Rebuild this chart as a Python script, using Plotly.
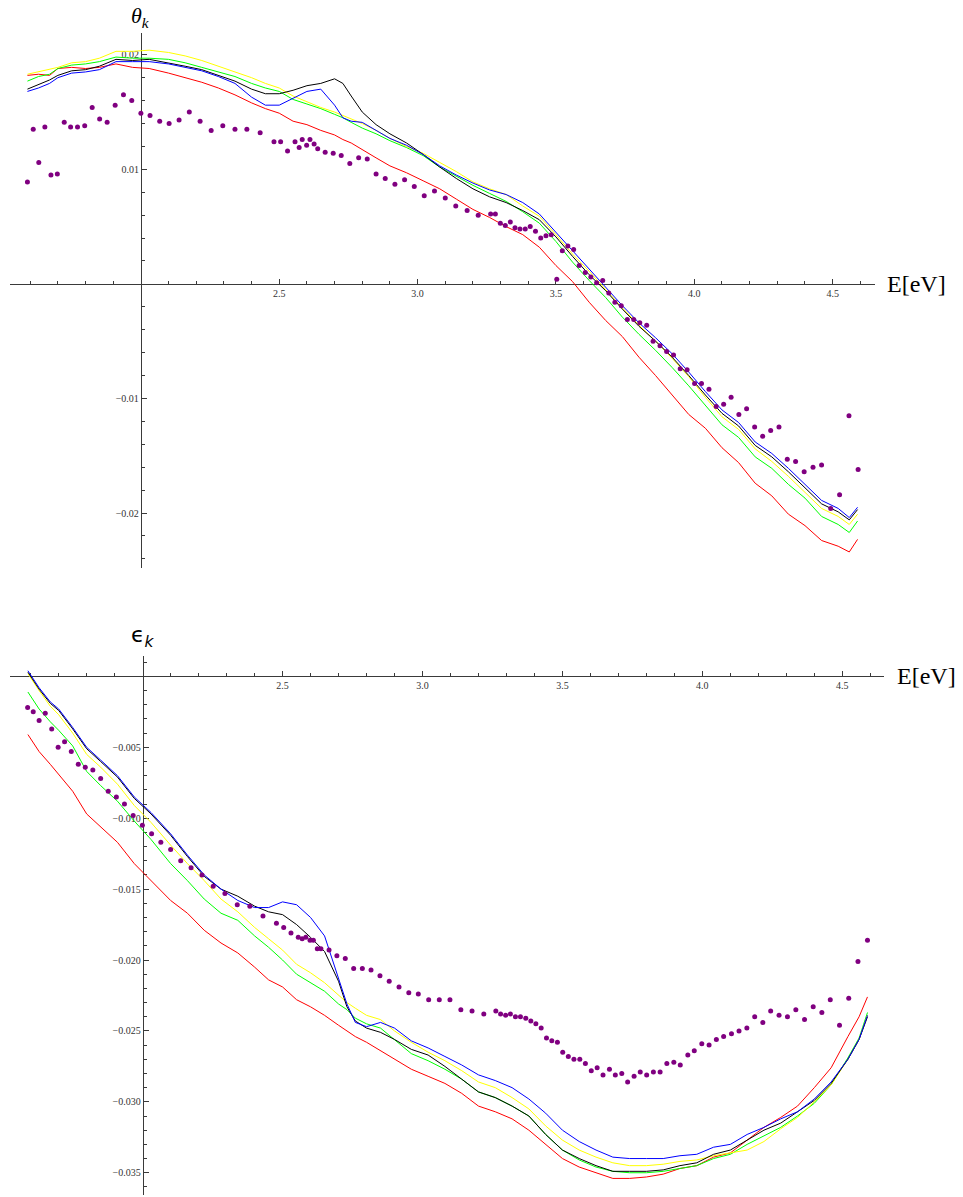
import plotly.graph_objects as go

# ---------------- data ----------------
E = [1.59, 1.63, 1.67, 1.70, 1.75, 1.80, 1.85, 1.91, 1.97, 2.03,
     2.10, 2.16, 2.22, 2.28, 2.34, 2.40, 2.45, 2.50, 2.55, 2.60,
     2.65, 2.70, 2.73, 2.76, 2.80, 2.85, 2.90, 2.96, 3.02, 3.08,
     3.14, 3.20, 3.26, 3.32, 3.38, 3.44, 3.50, 3.56, 3.62, 3.68,
     3.74, 3.80, 3.86, 3.92, 3.98, 4.04, 4.10, 4.16, 4.22, 4.28,
     4.34, 4.40, 4.46, 4.52, 4.56, 4.59]

theta_red = [0.0182, 0.0183, 0.0182, 0.0188, 0.0189, 0.0188, 0.0189, 0.0192, 0.0189, 0.0188,
             0.0184, 0.0180, 0.0176, 0.0171, 0.0165, 0.0158, 0.0153, 0.0149, 0.0142, 0.0139,
             0.0134, 0.0130, 0.0126, 0.0123, 0.0117, 0.0110, 0.0103, 0.0097, 0.0090, 0.0083,
             0.0074, 0.0065, 0.0058, 0.0050, 0.0043, 0.0032, 0.0016, 0.0002, -0.0016, -0.0032,
             -0.0046, -0.0064, -0.0080, -0.0097, -0.0114, -0.0126, -0.0143, -0.0156, -0.0174, -0.0185,
             -0.0201, -0.0211, -0.0224, -0.0229, -0.0234, -0.0223]
theta_green = [0.0177, 0.0181, 0.0183, 0.0188, 0.0191, 0.0192, 0.0194, 0.0198, 0.0197, 0.0197,
               0.0196, 0.0193, 0.0189, 0.0185, 0.0181, 0.0175, 0.0171, 0.0168, 0.0161, 0.0157,
               0.0153, 0.0148, 0.0145, 0.0141, 0.0136, 0.0131, 0.0125, 0.0119, 0.0112, 0.0102,
               0.0094, 0.0086, 0.0079, 0.0072, 0.0063, 0.0053, 0.0037, 0.0019, 0.0003, -0.0012,
               -0.0029, -0.0044, -0.0058, -0.0073, -0.0089, -0.0106, -0.0123, -0.0134, -0.0151, -0.0161,
               -0.0175, -0.0187, -0.0203, -0.0210, -0.0217, -0.0207]
theta_yellow = [0.0183, 0.0185, 0.0187, 0.0189, 0.0193, 0.0194, 0.0197, 0.0203, 0.0203, 0.0204,
                0.0202, 0.0199, 0.0195, 0.0190, 0.0185, 0.0180, 0.0175, 0.0171, 0.0164, 0.0159,
                0.0154, 0.0150, 0.0147, 0.0144, 0.0140, 0.0134, 0.0127, 0.0120, 0.0114, 0.0106,
                0.0098, 0.0089, 0.0083, 0.0078, 0.0068, 0.0059, 0.0043, 0.0026, 0.0011, -0.0005,
                -0.0021, -0.0036, -0.0050, -0.0065, -0.0081, -0.0099, -0.0116, -0.0127, -0.0144, -0.0155,
                -0.0168, -0.0182, -0.0196, -0.0203, -0.0210, -0.0201]
theta_black = [0.0170, 0.0174, 0.0178, 0.0182, 0.0186, 0.0187, 0.0190, 0.0196, 0.0195, 0.0196,
               0.0193, 0.0190, 0.0187, 0.0182, 0.0177, 0.0170, 0.0166, 0.0166, 0.0169, 0.0173,
               0.0175, 0.0179, 0.0175, 0.0164, 0.0150, 0.0139, 0.0131, 0.0123, 0.0113, 0.0102,
               0.0092, 0.0083, 0.0076, 0.0071, 0.0064, 0.0056, 0.0041, 0.0024, 0.0008, -0.0006,
               -0.0022, -0.0037, -0.0050, -0.0064, -0.0080, -0.0097, -0.0113, -0.0124, -0.0141, -0.0151,
               -0.0164, -0.0178, -0.0192, -0.0199, -0.0206, -0.0197]
theta_blue = [0.0168, 0.0171, 0.0175, 0.0180, 0.0184, 0.0185, 0.0187, 0.0194, 0.0194, 0.0194,
              0.0192, 0.0189, 0.0186, 0.0181, 0.0175, 0.0163, 0.0156, 0.0156, 0.0162, 0.0168,
              0.0170, 0.0156, 0.0145, 0.0142, 0.0141, 0.0134, 0.0127, 0.0121, 0.0113, 0.0103,
              0.0095, 0.0088, 0.0082, 0.0078, 0.0071, 0.0061, 0.0045, 0.0029, 0.0013, -0.0003,
              -0.0019, -0.0034, -0.0047, -0.0061, -0.0077, -0.0094, -0.0110, -0.0121, -0.0138, -0.0148,
              -0.0161, -0.0175, -0.0189, -0.0196, -0.0204, -0.0195]

eps_red = [-0.0041, -0.0053, -0.0062, -0.0069, -0.0081, -0.0097, -0.0106, -0.0117, -0.0132, -0.0144,
           -0.0158, -0.0167, -0.0179, -0.0188, -0.0195, -0.0205, -0.0214, -0.0219, -0.0228, -0.0233,
           -0.0239, -0.0246, -0.0250, -0.0254, -0.0258, -0.0264, -0.0270, -0.0277, -0.0282, -0.0287,
           -0.0294, -0.0303, -0.0307, -0.0312, -0.0320, -0.0330, -0.0340, -0.0346, -0.0350, -0.0354,
           -0.0354, -0.0353, -0.0351, -0.0347, -0.0345, -0.0339, -0.0336, -0.0327, -0.0318, -0.0311,
           -0.0303, -0.0290, -0.0276, -0.0254, -0.0240, -0.0226]
eps_green = [-0.0011, -0.0023, -0.0032, -0.0038, -0.0049, -0.0067, -0.0077, -0.0088, -0.0102, -0.0115,
             -0.0132, -0.0144, -0.0157, -0.0167, -0.0172, -0.0183, -0.0191, -0.0200, -0.0210, -0.0216,
             -0.0222, -0.0231, -0.0235, -0.0241, -0.0245, -0.0248, -0.0256, -0.0266, -0.0271, -0.0277,
             -0.0284, -0.0293, -0.0297, -0.0303, -0.0310, -0.0323, -0.0334, -0.0341, -0.0346, -0.0349,
             -0.0350, -0.0350, -0.0349, -0.0347, -0.0345, -0.0340, -0.0337, -0.0330, -0.0324, -0.0318,
             -0.0310, -0.0301, -0.0288, -0.0269, -0.0255, -0.0237]
eps_yellow = [0.0002, -0.0010, -0.0021, -0.0027, -0.0040, -0.0055, -0.0064, -0.0076, -0.0091, -0.0103,
              -0.0119, -0.0132, -0.0144, -0.0157, -0.0166, -0.0177, -0.0185, -0.0193, -0.0203, -0.0209,
              -0.0216, -0.0225, -0.0230, -0.0234, -0.0239, -0.0242, -0.0250, -0.0258, -0.0265, -0.0271,
              -0.0278, -0.0286, -0.0290, -0.0297, -0.0305, -0.0317, -0.0327, -0.0334, -0.0339, -0.0343,
              -0.0345, -0.0345, -0.0344, -0.0342, -0.0341, -0.0338, -0.0336, -0.0334, -0.0328, -0.0319,
              -0.0311, -0.0300, -0.0288, -0.0270, -0.0256, -0.0239]
eps_black = [0.0003, -0.0009, -0.0019, -0.0024, -0.0037, -0.0051, -0.0060, -0.0071, -0.0086, -0.0097,
             -0.0112, -0.0127, -0.0141, -0.0150, -0.0155, -0.0162, -0.0166, -0.0168, -0.0175, -0.0184,
             -0.0194, -0.0215, -0.0233, -0.0243, -0.0248, -0.0251, -0.0256, -0.0263, -0.0267, -0.0275,
             -0.0284, -0.0293, -0.0297, -0.0303, -0.0310, -0.0323, -0.0334, -0.0340, -0.0345, -0.0349,
             -0.0349, -0.0349, -0.0348, -0.0345, -0.0343, -0.0337, -0.0334, -0.0327, -0.0320, -0.0315,
             -0.0307, -0.0299, -0.0287, -0.0270, -0.0256, -0.0240]
eps_blue = [0.0004, -0.0008, -0.0018, -0.0023, -0.0036, -0.0050, -0.0059, -0.0070, -0.0085, -0.0096,
            -0.0111, -0.0126, -0.0140, -0.0150, -0.0158, -0.0163, -0.0163, -0.0159, -0.0161, -0.0170,
            -0.0183, -0.0212, -0.0231, -0.0244, -0.0247, -0.0244, -0.0248, -0.0257, -0.0262, -0.0268,
            -0.0274, -0.0281, -0.0285, -0.0290, -0.0298, -0.0308, -0.0320, -0.0328, -0.0334, -0.0339,
            -0.0340, -0.0340, -0.0340, -0.0338, -0.0337, -0.0332, -0.0330, -0.0323, -0.0318, -0.0312,
            -0.0307, -0.0298, -0.0286, -0.0270, -0.0256, -0.0239]

E_theta_dots = [1.590, 1.611, 1.631, 1.653, 1.675, 1.698, 1.723, 1.746, 1.771, 1.797,
                1.824, 1.851, 1.878, 1.907, 1.937, 1.967, 2.000, 2.033, 2.068, 2.102,
                2.138, 2.175, 2.214, 2.254, 2.296, 2.340, 2.383, 2.431, 2.481, 2.505,
                2.530, 2.557, 2.572, 2.583, 2.599, 2.611, 2.626, 2.639, 2.666, 2.695,
                2.724, 2.755, 2.787, 2.818, 2.850, 2.883, 2.918, 2.953, 2.988, 3.024,
                3.061, 3.100, 3.138, 3.179, 3.219, 3.264, 3.281, 3.299, 3.317, 3.335,
                3.352, 3.370, 3.389, 3.407, 3.426, 3.445, 3.464, 3.483, 3.503, 3.523,
                3.543, 3.564, 3.584, 3.606, 3.626, 3.647, 3.669, 3.691, 3.713, 3.736,
                3.758, 3.781, 3.803, 3.828, 3.851, 3.876, 3.900, 3.925, 3.949, 3.974,
                4.001, 4.026, 4.053, 4.079, 4.106, 4.133, 4.161, 4.189, 4.218, 4.247,
                4.276, 4.306, 4.336, 4.366, 4.397, 4.429, 4.460, 4.493, 4.525, 4.559,
                4.592]
theta_dots = [0.0089, 0.0135, 0.0106, 0.0137, 0.0095, 0.0096, 0.0141, 0.0137, 0.0137, 0.0138,
              0.0154, 0.0144, 0.0141, 0.0156, 0.0165, 0.0160, 0.0149, 0.0147, 0.0142, 0.0140,
              0.0143, 0.0150, 0.0142, 0.0134, 0.0138, 0.0135, 0.0135, 0.0132, 0.0124, 0.0124,
              0.0116, 0.0124, 0.0119, 0.0126, 0.0121, 0.0126, 0.0122, 0.0118, 0.0115, 0.0114,
              0.0112, 0.0105, 0.0110, 0.0109, 0.0096, 0.0092, 0.0087, 0.0091, 0.0085, 0.0077,
              0.0081, 0.0075, 0.0068, 0.0064, 0.0060, 0.0061, 0.0061, 0.0053, 0.0051, 0.0054,
              0.0049, 0.0048, 0.0048, 0.0050, 0.0046, 0.0040, 0.0042, 0.0043, 0.0004, 0.0029,
              0.0033, 0.0030, 0.0016, 0.0010, 0.0006, 0.0001, 0.0003, -0.0008, -0.0016, -0.0019,
              -0.0031, -0.0031, -0.0034, -0.0036, -0.0050, -0.0054, -0.0059, -0.0062, -0.0074, -0.0075,
              -0.0087, -0.0087, -0.0092, -0.0107, -0.0105, -0.0099, -0.0114, -0.0109, -0.0125, -0.0133,
              -0.0128, -0.0125, -0.0153, -0.0155, -0.0164, -0.0160, -0.0158, -0.0196, -0.0184, -0.0115,
              -0.0162]

E_eps_dots = [1.589, 1.609, 1.630, 1.652, 1.675, 1.698, 1.721, 1.745, 1.770, 1.795,
              1.822, 1.850, 1.877, 1.906, 1.935, 1.966, 1.999, 2.032, 2.065, 2.100,
              2.136, 2.173, 2.212, 2.252, 2.294, 2.338, 2.383, 2.430, 2.478, 2.504,
              2.530, 2.556, 2.570, 2.583, 2.598, 2.610, 2.624, 2.637, 2.666, 2.694,
              2.724, 2.754, 2.785, 2.816, 2.848, 2.881, 2.916, 2.951, 2.985, 3.022,
              3.060, 3.098, 3.137, 3.177, 3.219, 3.262, 3.279, 3.297, 3.314, 3.332,
              3.350, 3.369, 3.387, 3.405, 3.424, 3.443, 3.462, 3.482, 3.501, 3.521,
              3.541, 3.562, 3.582, 3.603, 3.624, 3.645, 3.668, 3.689, 3.712, 3.733,
              3.756, 3.778, 3.801, 3.825, 3.849, 3.873, 3.898, 3.921, 3.948, 3.971,
              3.998, 4.024, 4.050, 4.076, 4.104, 4.131, 4.159, 4.187, 4.216, 4.244,
              4.274, 4.304, 4.334, 4.365, 4.396, 4.427, 4.457, 4.490, 4.523, 4.556,
              4.590]
eps_dots = [-0.0022, -0.0025, -0.0031, -0.0026, -0.0037, -0.0050, -0.0046, -0.0053, -0.0062, -0.0064,
            -0.0066, -0.0072, -0.0081, -0.0085, -0.0090, -0.0098, -0.0105, -0.0111, -0.0117, -0.0122,
            -0.0130, -0.0135, -0.0140, -0.0148, -0.0153, -0.0161, -0.0162, -0.0169, -0.0174, -0.0177,
            -0.0181, -0.0184, -0.0185, -0.0184, -0.0186, -0.0186, -0.0192, -0.0192, -0.0193, -0.0197,
            -0.0199, -0.0206, -0.0206, -0.0207, -0.0211, -0.0215, -0.0219, -0.0223, -0.0224, -0.0228,
            -0.0228, -0.0228, -0.0235, -0.0236, -0.0238, -0.0236, -0.0238, -0.0239, -0.0238, -0.0240,
            -0.0240, -0.0241, -0.0243, -0.0245, -0.0248, -0.0255, -0.0257, -0.0258, -0.0265, -0.0268,
            -0.0270, -0.0270, -0.0273, -0.0278, -0.0276, -0.0281, -0.0277, -0.0281, -0.0280, -0.0286,
            -0.0282, -0.0279, -0.0281, -0.0279, -0.0279, -0.0273, -0.0272, -0.0274, -0.0267, -0.0264,
            -0.0259, -0.0260, -0.0256, -0.0254, -0.0252, -0.0250, -0.0248, -0.0240, -0.0244, -0.0236,
            -0.0239, -0.0240, -0.0235, -0.0242, -0.0233, -0.0237, -0.0228, -0.0246, -0.0227, -0.0201,
            -0.0186]

x_major = [2.5, 3.0, 3.5, 4.0, 4.5]
theta_major = [-0.02, -0.01, 0.01, 0.02]
eps_major = [-0.035, -0.030, -0.025, -0.020, -0.015, -0.010, -0.005]

# ---------------- layout geometry ----------------
W, H = 963, 1197


def fx(p):
    return p / W


def fy(p):
    return 1 - p / H


top_xr = [1.527, 4.653]
top_yr = [-0.0248, 0.0219]
bot_xr = [1.526, 4.649]
bot_yr = [-0.03657, 0.00144]

top_xd = [fx(10), fx(875)]
top_yd = [fy(568), fy(33)]
bot_xd = [fx(10), fx(884)]
bot_yd = [fy(1195), fy(656)]


def frac(v, rng, dom):
    return dom[0] + (v - rng[0]) / (rng[1] - rng[0]) * (dom[1] - dom[0])


AX = "#3a3a3a"
tick_font = dict(family="Liberation Serif", size=10, color="#333333")

# minor tick positions (axis decoration only), skipping the axis crossing point
x_minor = [round(1.6 + 0.1 * i, 1) for i in range(31) if i != 4]
theta_minor = [round(-0.024 + 0.002 * i, 3) for i in range(24) if i != 12]
eps_minor = [round(-0.036 + 0.001 * i, 3) for i in range(38) if i != 36]


def xaxis(rng, dom, pos):
    return dict(range=rng, domain=dom, anchor="free", position=pos, side="bottom",
                showgrid=False, zeroline=False, showline=True, linecolor=AX, linewidth=1,
                ticks="inside", ticklen=5, tickwidth=1, tickcolor=AX,
                tickmode="array", tickvals=x_major, tickformat=".1f", tickfont=tick_font,
                minor=dict(tickmode="array", tickvals=x_minor, ticks="inside", ticklen=3,
                           tickwidth=1, tickcolor=AX, showgrid=False),
                layer="below traces", fixedrange=True)


def yaxis(rng, dom, pos, major, minor, fmt):
    return dict(range=rng, domain=dom, anchor="free", position=pos, side="left",
                showgrid=False, zeroline=False, showline=True, linecolor=AX, linewidth=1,
                ticks="inside", ticklen=5, tickwidth=1, tickcolor=AX,
                tickmode="array", tickvals=major, tickformat=fmt, tickfont=tick_font,
                minor=dict(tickmode="array", tickvals=minor, ticks="inside", ticklen=3,
                           tickwidth=1, tickcolor=AX, showgrid=False),
                layer="below traces", fixedrange=True)


fig = go.Figure()

series = [("red", "#ff0000"), ("green", "#00ff00"), ("yellow", "#ffff00"),
          ("black", "#000000"), ("blue", "#0000ff")]
theta_lines = {"red": theta_red, "green": theta_green, "yellow": theta_yellow,
               "black": theta_black, "blue": theta_blue}
eps_lines = {"red": eps_red, "green": eps_green, "yellow": eps_yellow,
             "black": eps_black, "blue": eps_blue}

for name, col in series:
    fig.add_trace(go.Scatter(x=E, y=theta_lines[name], mode="lines",
                             line=dict(color=col, width=1), xaxis="x", yaxis="y",
                             showlegend=False, hoverinfo="skip"))
fig.add_trace(go.Scatter(x=E_theta_dots, y=theta_dots, mode="markers",
                         marker=dict(color="#800080", size=5), xaxis="x", yaxis="y",
                         showlegend=False, hoverinfo="skip"))

for name, col in series:
    fig.add_trace(go.Scatter(x=E, y=eps_lines[name], mode="lines",
                             line=dict(color=col, width=1), xaxis="x2", yaxis="y2",
                             showlegend=False, hoverinfo="skip"))
fig.add_trace(go.Scatter(x=E_eps_dots, y=eps_dots, mode="markers",
                         marker=dict(color="#800080", size=5), xaxis="x2", yaxis="y2",
                         showlegend=False, hoverinfo="skip"))

top_xpos = frac(0, top_yr, top_yd)
top_ypos = frac(2.0, top_xr, top_xd)
bot_xpos = frac(0, bot_yr, bot_yd)
bot_ypos = frac(2.0, bot_xr, bot_xd)

fig.update_layout(
    width=W, height=H,
    margin=dict(l=0, r=0, t=0, b=0),
    paper_bgcolor="white", plot_bgcolor="white",
    showlegend=False,
    xaxis=xaxis(top_xr, top_xd, top_xpos),
    yaxis=yaxis(top_yr, top_yd, top_ypos, theta_major, theta_minor, ".2f"),
    xaxis2=xaxis(bot_xr, bot_xd, bot_xpos),
    yaxis2=yaxis(bot_yr, bot_yd, bot_ypos, eps_major, eps_minor, ".3f"),
)

label_font = dict(family="Liberation Serif", size=24, color="black")
fig.add_annotation(x=top_xd[1] + fx(10), y=top_xpos, xref="paper", yref="paper",
                   text="E[eV]", showarrow=False, xanchor="left", yanchor="middle",
                   font=label_font)
fig.add_annotation(x=bot_xd[1] + fx(11), y=bot_xpos, xref="paper", yref="paper",
                   text="E[eV]", showarrow=False, xanchor="left", yanchor="middle",
                   font=label_font)
fig.add_annotation(x=top_ypos, y=fy(1), xref="paper", yref="paper",
                   text="<i>θ</i><sub><i>k</i></sub>", showarrow=False,
                   xanchor="center", yanchor="top",
                   font=dict(family="Liberation Serif", size=22, color="black"))
fig.add_annotation(x=bot_ypos, y=fy(636), xref="paper", yref="paper",
                   text="ϵ<sub><i>k</i></sub>", showarrow=False,
                   xanchor="center", yanchor="middle",
                   font=dict(family="DejaVu Sans", size=22, color="black"))

fig.write_html("out.html")
